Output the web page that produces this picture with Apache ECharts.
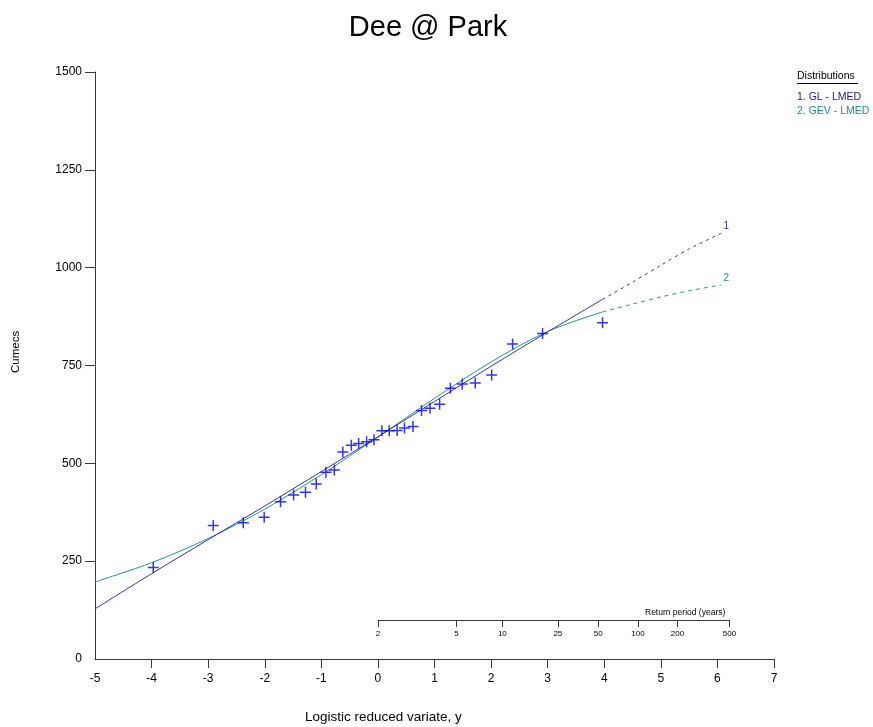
<!DOCTYPE html>
<html>
<head>
<meta charset="utf-8">
<script src="https://cdn.jsdelivr.net/npm/echarts@6/dist/echarts.min.js"></script>
<style>
  html, body { margin: 0; padding: 0; background: #fff; }
  #chart { width: 873px; height: 727px; }
</style>
</head>
<body>
<div id="chart"></div>
<script>
// observed annual maxima, plotted against logistic reduced variate
const obsY = [-3.97, -2.91, -2.38, -2.01, -1.72, -1.49, -1.28, -1.09, -0.92, -0.77,
  -0.62, -0.47, -0.34, -0.20, -0.07, 0.07, 0.20, 0.34, 0.47, 0.62,
  0.77, 0.92, 1.09, 1.28, 1.49, 1.72, 2.01, 2.38, 2.91, 3.97];
const obsQ = [234, 341, 348, 362, 402, 419, 426, 447, 477, 483,
  529, 546, 551, 555, 560, 583, 583, 584, 590, 594,
  635, 641, 651, 692, 703, 705, 726, 805, 832, 859];

// fitted curves (solid within data range, dashed beyond)
const fitX = [-5, -4, -3, -2, -1, 0, 1, 2, 3, 3.97];
const glFit = [128, 218, 305, 391, 479, 568, 658, 748, 836, 919];
const gevFit = [197, 246, 308, 383, 471, 567, 666, 759, 837, 887];
const extX = [3.97, 4.5, 5, 5.5, 6.07];
const glExt = [919, 963, 1006, 1048, 1088];
const gevExt = [887, 907, 925, 941, 956];

const xTicks = [-4, -3, -2, -1, 0, 1, 2, 3, 4, 5, 6, 7];
const yTicks = [250, 500, 750, 1000, 1250, 1500];
const returnPeriods = [2, 5, 10, 25, 50, 100, 200, 500];

const GL_COLOR = '#34349c';
const GEV_COLOR = '#1f9595';
const AXIS_COLOR = '#3a3a3a';
const FONT = 'Liberation Sans, Arial, sans-serif';

const pair = (xs, ys) => xs.map((x, i) => [x, ys[i]]);
// return period T sits at y = ln(T - 1) on the logistic scale
const rpPos = returnPeriods.map(t => Math.log(t - 1));

const plus = 'path://M4.75,0h1.5v4.75h4.75v1.5h-4.75v4.75h-1.5v-4.75h-4.75v-1.5h4.75z';

const chart = echarts.init(document.getElementById('chart'));

const option = {
  backgroundColor: '#fff',
  animation: false,
  textStyle: { fontFamily: FONT },
  title: {
    text: 'Dee @ Park',
    left: 423,
    textAlign: 'center',
    top: 8,
    textStyle: { fontSize: 29, fontWeight: 'normal', color: '#000', fontFamily: FONT }
  },
  grid: [
    { left: 95, right: 99, top: 72, bottom: 68 },
    { left: 378, width: Math.log(499) * (679 / 12), top: 600, height: 20 }
  ],
  xAxis: [
    {
      gridIndex: 0, type: 'value', min: -5, max: 7, interval: 1,
      axisLine: { onZero: false, lineStyle: { color: AXIS_COLOR, width: 1 } },
      axisTick: { length: 9, customValues: xTicks, lineStyle: { color: AXIS_COLOR } },
      axisLabel: { color: '#000', fontSize: 12, margin: 14 },
      splitLine: { show: false }
    },
    {
      gridIndex: 1, type: 'value', min: 0, max: Math.log(499),
      axisLine: { onZero: false, lineStyle: { color: AXIS_COLOR, width: 1 } },
      axisTick: { length: 7, customValues: rpPos, lineStyle: { color: AXIS_COLOR } },
      axisLabel: {
        customValues: rpPos, color: '#000', fontSize: 8, margin: 10,
        formatter: v => String(Math.round(Math.exp(v) + 1))
      },
      splitLine: { show: false }
    }
  ],
  yAxis: [
    {
      gridIndex: 0, type: 'value', min: 0, max: 1500, interval: 250,
      axisLine: { show: true, onZero: false, lineStyle: { color: AXIS_COLOR, width: 1 } },
      axisTick: { show: true, length: 10, customValues: yTicks, lineStyle: { color: AXIS_COLOR } },
      axisLabel: { color: '#000', fontSize: 12, margin: 13, formatter: v => String(v) },
      splitLine: { show: false }
    },
    {
      gridIndex: 1, type: 'value', show: false
    }
  ],
  graphic: [
    { type: 'text', left: 305, top: 710, style: { text: 'Logistic reduced variate, y', fill: '#000', font: '13.5px ' + FONT } },
    { type: 'text', x: 10, y: 373, rotation: Math.PI / 2, style: { text: 'Cumecs', fill: '#000', font: '11.5px ' + FONT } },
    { type: 'text', x: 645, y: 608, style: { text: 'Return period (years)', fill: '#000', font: '8.5px ' + FONT } },
    { type: 'text', x: 797, y: 71, style: { text: 'Distributions', fill: '#000', font: '10.5px ' + FONT } },
    { type: 'line', shape: { x1: 797, y1: 83.5, x2: 858, y2: 83.5 }, style: { stroke: '#000', lineWidth: 1 } },
    { type: 'text', x: 797, y: 92, style: { text: '1. GL - LMED', fill: '#1c1c8c', font: '10.5px ' + FONT } },
    { type: 'text', x: 797, y: 106, style: { text: '2. GEV - LMED', fill: '#158f8f', font: '10.5px ' + FONT } }
  ],
  series: [
    {
      name: 'GL', type: 'line', xAxisIndex: 0, yAxisIndex: 0,
      data: pair(fitX, glFit), smooth: 0.3, showSymbol: false,
      lineStyle: { color: GL_COLOR, width: 1 }, z: 3
    },
    {
      name: 'GEV', type: 'line', xAxisIndex: 0, yAxisIndex: 0,
      data: pair(fitX, gevFit), smooth: 0.3, showSymbol: false,
      lineStyle: { color: GEV_COLOR, width: 1 }, z: 2
    },
    {
      name: 'GL ext', type: 'line', xAxisIndex: 0, yAxisIndex: 0,
      data: pair(extX, glExt), smooth: 0.3, showSymbol: false,
      lineStyle: { color: GL_COLOR, width: 1, type: [3, 4] },
      endLabel: { show: true, formatter: '1', color: GL_COLOR, fontSize: 10, offset: [-6, -7] }
    },
    {
      name: 'GEV ext', type: 'line', xAxisIndex: 0, yAxisIndex: 0,
      data: pair(extX, gevExt), smooth: 0.3, showSymbol: false,
      lineStyle: { color: GEV_COLOR, width: 1, type: [4, 4] },
      endLabel: { show: true, formatter: '2', color: GEV_COLOR, fontSize: 10, offset: [-6, -7] }
    },
    {
      name: 'Observed', type: 'scatter', xAxisIndex: 0, yAxisIndex: 0,
      data: pair(obsY, obsQ), symbol: plus, symbolSize: 11,
      itemStyle: { color: '#0000ff' }, z: 5
    }
  ]
};

chart.setOption(option);
</script>
</body>
</html>
